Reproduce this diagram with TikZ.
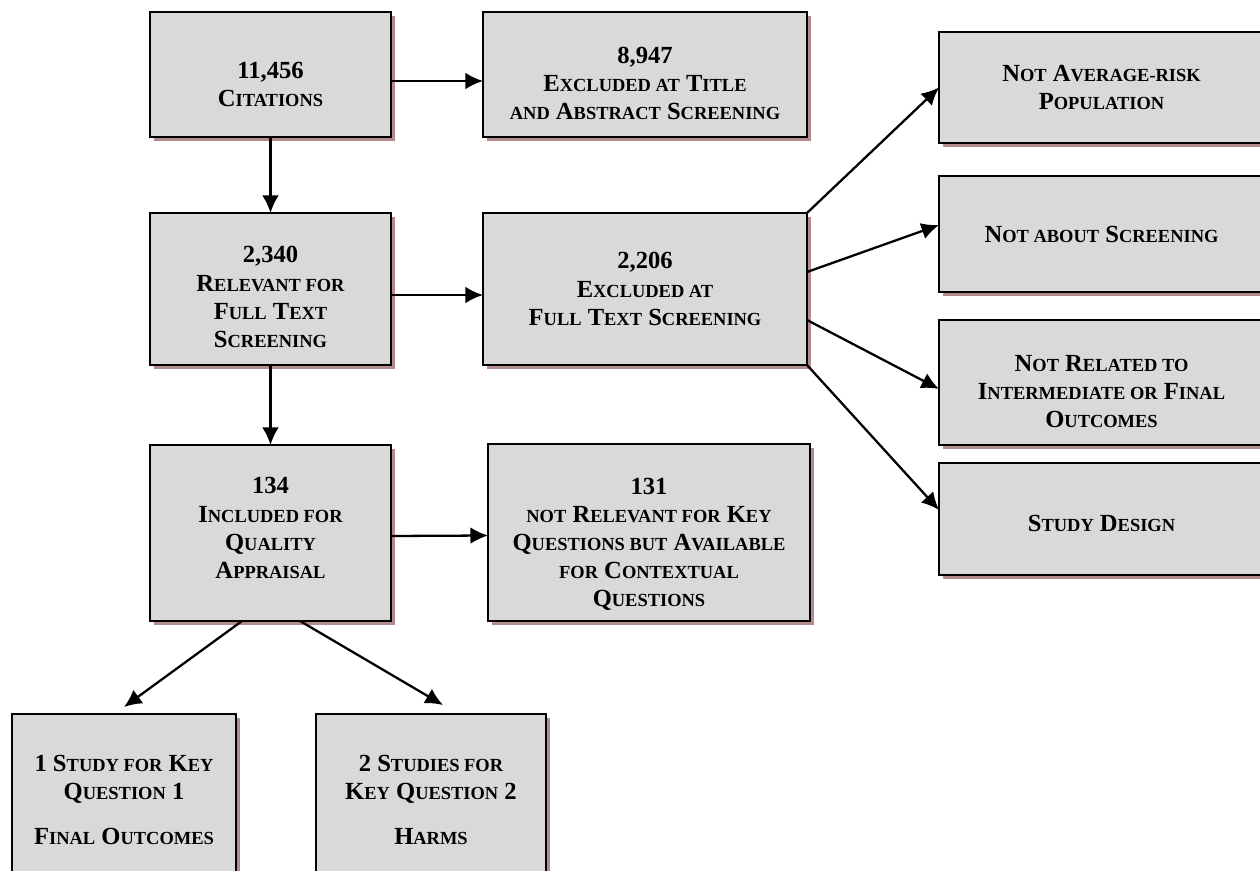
\documentclass[tikz,border=0pt]{standalone}
\usepackage{fontspec}
\setmainfont{Liberation Serif}
\usepackage{tikz}
\usetikzlibrary{arrows.meta,shadows,positioning}
\definecolor{boxgray}{RGB}{217,217,217}
\definecolor{shadowc}{RGB}{180,140,140}
\newcommand{\sm}[1]{{\fontsize{10.5}{16}\selectfont #1}}

\begin{document}
\begin{tikzpicture}[x=0.02cm,y=-0.02cm,every node/.style={outer sep=0pt},
 box/.style={draw,line width=1.3pt,fill=boxgray,
 general shadow={fill=shadowc,shadow xshift=0.08cm,shadow yshift=-0.08cm}},
 txt/.style={align=center,inner sep=0pt,font=\fontsize{14}{16}\selectfont\bfseries},
 arr/.style={-{Latex[length=10pt,width=9.5pt]},line width=1.3pt}]

\clip (0,0) rectangle (1260,871);

  \node[box,minimum width=4.82cm,minimum height=2.5cm] (cit) at (270.5,74.5) {};
  \node[txt] (citt) at ([yshift=-0.2cm]cit.center) {11,456\\ C\sm{ITATIONS}};
  \node[box,minimum width=6.48cm,minimum height=2.5cm] (ex1) at (645,74.5) {};
  \node[txt] (ex1t) at ([yshift=-0.18cm]ex1.center) {8,947\\ E\sm{XCLUDED AT} T\sm{ITLE}\\ \sm{AND} A\sm{BSTRACT} S\sm{CREENING}};

  \node[box,minimum width=4.82cm,minimum height=3.04cm] (rel) at (270.5,289) {};
  \node[txt] (relt) at ([yshift=-0.16cm]rel.center) {2,340\\ R\sm{ELEVANT FOR}\\ F\sm{ULL} T\sm{EXT}\\ S\sm{CREENING}};
  \node[box,minimum width=6.48cm,minimum height=3.04cm] (ex2) at (645,289) {};
  \node[txt] (ex2t) at (ex2.center) {2,206\\ E\sm{XCLUDED AT}\\ F\sm{ULL} T\sm{EXT} S\sm{CREENING}};

  \node[box,minimum width=6.5cm,minimum height=2.22cm] (nar) at (1101.5,87.5) {};
  \node[txt] (nart) at (nar.center) {N\sm{OT} A\sm{VERAGE-RISK}\\ P\sm{OPULATION}};
  \node[box,minimum width=6.5cm,minimum height=2.32cm] (nas) at (1101.5,234) {};
  \node[txt] (nast) at (nas.center) {N\sm{OT ABOUT} S\sm{CREENING}};
  \node[box,minimum width=6.5cm,minimum height=2.5cm] (nrel) at (1101.5,382.5) {};
  \node[txt] (nrelt) at ([yshift=-0.18cm]nrel.center) {N\sm{OT} R\sm{ELATED TO}\\ I\sm{NTERMEDIATE OR} F\sm{INAL}\\ O\sm{UTCOMES}};
  \node[box,minimum width=6.5cm,minimum height=2.24cm] (sd) at (1101.5,519) {};
  \node[txt] (sdt) at ([yshift=-0.08cm]sd.center) {S\sm{TUDY} D\sm{ESIGN}};

  \node[box,minimum width=4.82cm,minimum height=3.52cm] (inc) at (270.5,533) {};
  \node[txt] (inct) at ([yshift=0.1cm]inc.center) {134\\ I\sm{NCLUDED FOR}\\ Q\sm{UALITY}\\ A\sm{PPRAISAL}};
  \node[box,minimum width=6.44cm,minimum height=3.54cm] (ctx) at (649,532.5) {};
  \node[txt] (ctxt) at ([yshift=-0.24cm]ctx.center) {131\\ \sm{NOT} R\sm{ELEVANT FOR} K\sm{EY}\\ Q\sm{UESTIONS BUT} A\sm{VAILABLE}\\ \sm{FOR} C\sm{ONTEXTUAL}\\ Q\sm{UESTIONS}};

  \node[box,minimum width=4.48cm,minimum height=3.44cm] (kq1) at (124,800) {};
  \node[txt] (kq1t) at (kq1.center) {1 S\sm{TUDY FOR} K\sm{EY}\\ Q\sm{UESTION} 1\\[9.6pt] F\sm{INAL} O\sm{UTCOMES}};
  \node[box,minimum width=4.6cm,minimum height=3.44cm] (kq2) at (431,800) {};
  \node[txt] (kq2t) at (kq2.center) {2 S\sm{TUDIES FOR}\\ K\sm{EY} Q\sm{UESTION} 2\\[9.6pt] H\sm{ARMS}};


\draw [arr] ([yshift=-0.13cm]cit.east) -- ([yshift=-0.13cm]ex1.west);
\draw [arr] (cit.south) -- (rel.north);
\draw [arr] ([yshift=-0.12cm]rel.east) -- ([yshift=-0.12cm]ex2.west);
\draw [arr] (rel.south) -- (inc.north);
\draw [arr] ([yshift=-0.06cm]inc.east) -- ([yshift=-0.06cm]ctx.west);

\draw [arr] (ex2.north east) -- (nar.west);
\draw [arr] ([yshift=0.34cm]ex2.east) -- ([yshift=0.18cm]nas.west);
\draw [arr] ([yshift=-0.62cm]ex2.east) -- ([yshift=-0.13cm]nrel.west);
\draw [arr] (ex2.south east) -- ([yshift=0.18cm]sd.west);

\draw [arr] ([xshift=-0.57cm]inc.south) -- ([yshift=0.14cm]kq1.north);
\draw [arr] ([xshift=0.59cm]inc.south) -- ([xshift=0.24cm,yshift=0.18cm]kq2.north);

\end{tikzpicture}
\end{document}
